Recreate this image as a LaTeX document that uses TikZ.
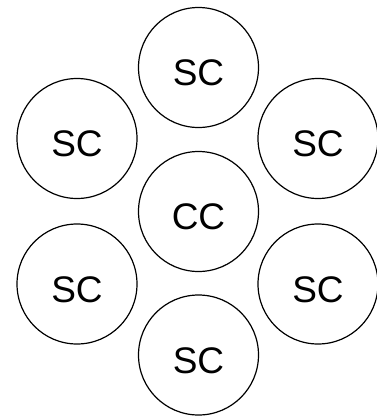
\documentclass[tikz,border=0pt]{standalone}
\usepackage{fontspec}
\setmainfont{Liberation Sans}
\usepackage{tikz}
\usetikzlibrary{positioning}
\tikzset{
    every picture/.style={line cap=round,line join=round},
    corenode/.style={draw=black,circle,fill=white,line width=1.2pt,
      minimum size=120pt,inner sep=0pt,text height=36pt,text depth=0pt,
      font=\fontsize{37}{42}\selectfont,align=center}
}

\begin{document}
\begin{tikzpicture}[x=1pt,y=-1pt]
    \useasboundingbox (0,0) rectangle (377,418);
    \node[corenode] (cc) at (198.5,211.5) {CC};
    \node[corenode] (top) at (198.5,67.5) {SC};
    \node[corenode] (ul) at (77,138.5) {SC};
    \node[corenode] (ur) at (318,138.5) {SC};
    \node[corenode] (ll) at (77,284) {SC};
    \node[corenode] (lr) at (318,284) {SC};
    \node[corenode] (bot) at (198.5,355) {SC};
\end{tikzpicture}
\end{document}
